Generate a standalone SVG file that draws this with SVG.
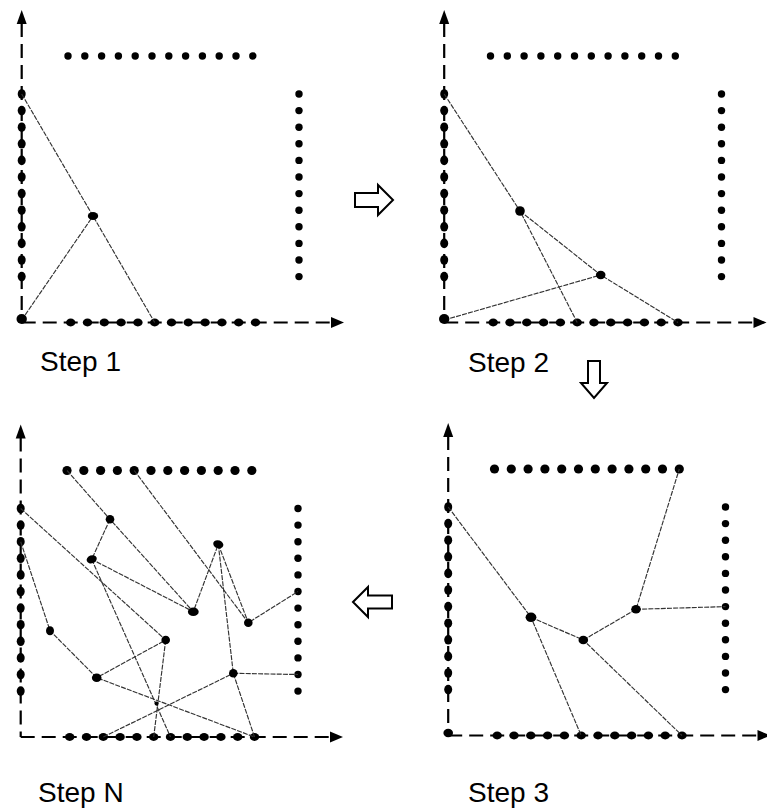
<svg xmlns="http://www.w3.org/2000/svg" xmlns:xlink="http://www.w3.org/1999/xlink" width="767" height="809" viewBox="0 0 767 809">
<style>
.axis{fill:none;stroke:#000;stroke-width:2.2;stroke-dasharray:14 7}
.ah{fill:#000}
.dot{fill:#000}
.node{fill:#000}
.conn{fill:none;stroke:#333;stroke-width:1.15;stroke-dasharray:5 1.2}
.blk{fill:#fff;stroke:#000;stroke-width:2;stroke-linejoin:miter}
.lbl{font-family:"Liberation Sans",Arial,sans-serif;font-size:28px;fill:#000}
</style>
<defs>
<g id="base">
<path class="axis" d="M21.7,23 V322.5"/>
<polygon class="ah" points="21.7,10 16.7,24 26.7,24"/>
<path class="axis" d="M21.7,322.5 H333"/>
<polygon class="ah" points="344,322.5 331,317 331,328"/>
<g class="dot">
<circle cx="299" cy="94" r="3.7"/><circle cx="299" cy="110.6" r="3.7"/><circle cx="299" cy="127.2" r="3.7"/><circle cx="299" cy="143.8" r="3.7"/><circle cx="299" cy="160.4" r="3.7"/><circle cx="299" cy="177" r="3.7"/><circle cx="299" cy="193.6" r="3.7"/><circle cx="299" cy="210.2" r="3.7"/><circle cx="299" cy="226.8" r="3.7"/><circle cx="299" cy="243.4" r="3.7"/><circle cx="299" cy="260" r="3.7"/><circle cx="299" cy="276.6" r="3.7"/>
<ellipse cx="21.7" cy="94" rx="4" ry="4.8"/><ellipse cx="21.7" cy="110.6" rx="4" ry="4.8"/><ellipse cx="21.7" cy="127.2" rx="4" ry="4.8"/><ellipse cx="21.7" cy="143.8" rx="4" ry="4.8"/><ellipse cx="21.7" cy="160.4" rx="4" ry="4.8"/><ellipse cx="21.7" cy="177" rx="4" ry="4.8"/><ellipse cx="21.7" cy="193.6" rx="4" ry="4.8"/><ellipse cx="21.7" cy="210.2" rx="4" ry="4.8"/><ellipse cx="21.7" cy="226.8" rx="4" ry="4.8"/><ellipse cx="21.7" cy="243.4" rx="4" ry="4.8"/><ellipse cx="21.7" cy="260" rx="4" ry="4.8"/><ellipse cx="21.7" cy="276.6" rx="4" ry="4.8"/>
<ellipse cx="70.7" cy="322.5" rx="4.7" ry="3.9"/><ellipse cx="87.5" cy="322.5" rx="4.7" ry="3.9"/><ellipse cx="104.3" cy="322.5" rx="4.7" ry="3.9"/><ellipse cx="121.1" cy="322.5" rx="4.7" ry="3.9"/><ellipse cx="137.9" cy="322.5" rx="4.7" ry="3.9"/><ellipse cx="154.7" cy="322.5" rx="4.7" ry="3.9"/><ellipse cx="171.5" cy="322.5" rx="4.7" ry="3.9"/><ellipse cx="188.3" cy="322.5" rx="4.7" ry="3.9"/><ellipse cx="205.1" cy="322.5" rx="4.7" ry="3.9"/><ellipse cx="221.9" cy="322.5" rx="4.7" ry="3.9"/><ellipse cx="238.7" cy="322.5" rx="4.7" ry="3.9"/><ellipse cx="255.5" cy="322.5" rx="4.7" ry="3.9"/>
</g>
</g>
<g id="toprow-s">
<circle cx="68" cy="56" r="3.7"/><circle cx="84.8" cy="56" r="3.7"/><circle cx="101.6" cy="56" r="3.7"/><circle cx="118.4" cy="56" r="3.7"/><circle cx="135.2" cy="56" r="3.7"/><circle cx="152" cy="56" r="3.7"/><circle cx="168.8" cy="56" r="3.7"/><circle cx="185.6" cy="56" r="3.7"/><circle cx="202.4" cy="56" r="3.7"/><circle cx="219.2" cy="56" r="3.7"/><circle cx="236" cy="56" r="3.7"/><circle cx="252.8" cy="56" r="3.7"/>
</g>
<g id="toprow-l">
<circle cx="68" cy="56" r="4.6"/><circle cx="84.8" cy="56" r="4.6"/><circle cx="101.6" cy="56" r="4.6"/><circle cx="118.4" cy="56" r="4.6"/><circle cx="135.2" cy="56" r="4.6"/><circle cx="152" cy="56" r="4.6"/><circle cx="168.8" cy="56" r="4.6"/><circle cx="185.6" cy="56" r="4.6"/><circle cx="202.4" cy="56" r="4.6"/><circle cx="219.2" cy="56" r="4.6"/><circle cx="236" cy="56" r="4.6"/><circle cx="252.8" cy="56" r="4.6"/>
</g>
</defs>
<rect width="767" height="809" fill="#fff"/>

<g id="panel-step1">
<use xlink:href="#base" href="#base"/>
<use class="dot" xlink:href="#toprow-s" href="#toprow-s"/>
<g id="connectors-step1">
<path class="conn" d="M21.7,94 L93,216 L154.7,322.5"/>
<path class="conn" d="M21.7,320 L93,216"/>
</g>
<g id="s1-corner"><ellipse class="node" cx="21.7" cy="319" rx="5.2" ry="5"/></g>
<g id="s1-n1"><ellipse class="node" cx="93" cy="216" rx="5.2" ry="4"/></g>
<text class="lbl" x="40" y="370.5">Step 1</text>
</g>

<g id="panel-step2">
<use xlink:href="#base" href="#base" transform="translate(422.5,0)"/>
<use class="dot" xlink:href="#toprow-s" href="#toprow-s" transform="translate(422.5,0)"/>
<g id="connectors-step2">
<path class="conn" d="M444.2,94 L520,211 L577.2,322.5"/>
<path class="conn" d="M520,211 L600.7,275 L678,322.5"/>
<path class="conn" d="M444.2,320 L600.7,275"/>
</g>
<g id="s2-corner"><ellipse class="node" cx="444.2" cy="319" rx="5.2" ry="5"/></g>
<g id="s2-n1"><ellipse class="node" cx="520" cy="211" rx="4.8" ry="4.8"/></g>
<g id="s2-n2"><ellipse class="node" cx="600.7" cy="275" rx="4.8" ry="4.2"/></g>
<text class="lbl" x="468" y="372">Step 2</text>
</g>

<g id="panel-step3">
<use xlink:href="#base" href="#base" transform="translate(426.5,413)"/>
<use class="dot" xlink:href="#toprow-l" href="#toprow-l" transform="translate(426.5,413)"/>
<g id="connectors-step3">
<path class="conn" d="M448.2,507 L531,617.3 L581.2,735.5"/>
<path class="conn" d="M531,617.3 L583.3,640 L682,735.5"/>
<path class="conn" d="M583.3,640 L636,609.3 L679.3,469"/>
<path class="conn" d="M636,609.3 L725.5,606.6"/>
</g>
<g id="s3-corner"><ellipse class="node" cx="448.2" cy="733" rx="4.8" ry="4.2"/></g>
<g id="s3-n1"><ellipse class="node" cx="531" cy="617.3" rx="5.4" ry="4.8"/></g>
<g id="s3-n2"><ellipse class="node" cx="583.3" cy="640" rx="4.8" ry="4.3"/></g>
<g id="s3-n3"><ellipse class="node" cx="636" cy="609.3" rx="4.8" ry="4.3"/></g>
<text class="lbl" x="468" y="802">Step 3</text>
</g>

<g id="panel-stepN">
<use xlink:href="#base" href="#base" transform="translate(-1,414.5)"/>
<use class="dot" xlink:href="#toprow-l" href="#toprow-l" transform="translate(-1,414.5)"/>
<g id="connectors-stepN">
<path class="conn" d="M67,470.5 L110,519.3 L193.3,611.7"/>
<path class="conn" d="M110,519.3 L91.7,559.3 L193.3,611.7 L218.3,544.3"/>
<path class="conn" d="M134.2,470.5 L248.3,622.7 L298,591.5"/>
<path class="conn" d="M218.3,544.3 L248.3,622.7"/>
<path class="conn" d="M218.3,544.3 L233.3,673.3 L254.5,737"/>
<path class="conn" d="M233.3,673.3 L298,674.5"/>
<path class="conn" d="M103.3,737 L233.3,673.3"/>
<path class="conn" d="M20.7,508.5 L165.7,640 L96.7,677.7"/>
<path class="conn" d="M165.7,640 L153.7,737"/>
<path class="conn" d="M91.7,559.3 L170.5,737"/>
<path class="conn" d="M20.7,541.7 L50,630.7 L96.7,677.7 L254.5,737"/>
</g>
<g id="sN-n1"><ellipse class="node" cx="110" cy="519.3" rx="4.3" ry="4.3"/></g>
<g id="sN-n2"><ellipse class="node" cx="91.7" cy="559.3" rx="5.2" ry="4" transform="rotate(-20 91.7 559.3)"/></g>
<g id="sN-n3"><ellipse class="node" cx="193.3" cy="611.7" rx="5.4" ry="4.3"/></g>
<g id="sN-n4"><ellipse class="node" cx="218.3" cy="544.3" rx="5.2" ry="4" transform="rotate(20 218.3 544.3)"/></g>
<g id="sN-n5"><ellipse class="node" cx="248.3" cy="622.7" rx="4.3" ry="4.3"/></g>
<g id="sN-n6"><ellipse class="node" cx="50" cy="630.7" rx="4" ry="4.5"/></g>
<g id="sN-n7"><ellipse class="node" cx="165.7" cy="640" rx="4.3" ry="4.3"/></g>
<g id="sN-n8"><ellipse class="node" cx="96.7" cy="677.7" rx="4.8" ry="4.3"/></g>
<g id="sN-n9"><ellipse class="node" cx="233.3" cy="673.3" rx="4.3" ry="4.3"/></g>
<g id="sN-n10"><ellipse class="node" cx="156.5" cy="703.5" rx="2" ry="2"/></g>
<text class="lbl" x="38" y="802">Step N</text>
</g>

<g id="flow-arrows">
<polygon class="blk" points="355,193 378,193 378,185 393,200 378,215 378,207 355,207"/>
<polygon class="blk" points="588,361 600,361 600,383 607,383 594,398 581,383 588,383"/>
<polygon class="blk" points="353,602 368,587 368,595.5 392,595.5 392,608.5 368,608.5 368,617"/>
</g>
</svg>
